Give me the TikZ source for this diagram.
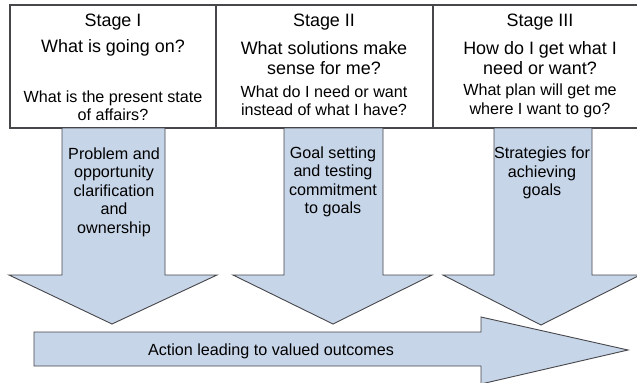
\documentclass[tikz,border=0pt]{standalone}
\usepackage{fontspec}
\setmainfont{Liberation Sans}
\definecolor{arrowfill}{RGB}{199,213,233}
\definecolor{edge}{RGB}{70,70,75}
\begin{document}
\begin{tikzpicture}[x=1bp,y=-1bp,
  frame/.style={draw=edge,line width=1.1bp},
  bigarrow/.style={draw=edge,line width=0.9bp,fill=arrowfill,line join=miter},
  head/.style={font=\fontsize{18}{20}\selectfont,align=center,inner sep=0pt},
  question/.style={font=\fontsize{16.2}{18.5}\selectfont,align=center,inner sep=0pt},
  arrowtext/.style={font=\fontsize{16.2}{18.5}\selectfont,align=center,inner sep=0pt}]
  \useasboundingbox (0,0) rectangle (637,382);
  \clip (0,0) rectangle (637,382);
  \fill[white] (0,0) rectangle (637,382);

  % stage table
  \draw[frame] (10,5) rectangle (660,128);
  \draw[frame] (216,5) -- (216,128);
  \draw[frame] (433,5) -- (433,128);

  % downward arrows
  \draw[bigarrow] (62,128) -- (165,128) -- (165,275) -- (217,275) -- (112,324)
    -- (9,275) -- (62,275) -- cycle;
  \draw[bigarrow] (284,128) -- (383,128) -- (383,275) -- (432,275) -- (333,324)
    -- (233,275) -- (284,275) -- cycle;
  \draw[bigarrow] (494,128) -- (592,128) -- (592,275) -- (640,275) -- (541,325)
    -- (443,275) -- (494,275) -- cycle;

  % horizontal arrow
  \draw[bigarrow] (34,332) -- (481,332) -- (481,317) -- (628,350) -- (481,384)
    -- (481,366) -- (34,366) -- cycle;

  % stage I
  \node[head] (s1) at (113,22) {Stage I};
  \node[head] (q1) at (113,48) {What is going on?};
  \node[question] (p1) at (113,106) {What is the present state\\of affairs?};
  % stage II
  \node[head] (s2) at (324,22) {Stage II};
  \node[head] (q2) at (324,58) {What solutions make\\sense for me?};
  \node[question] (p2) at (324,101) {What do I need or want\\instead of what I have?};
  % stage III
  \node[head] (s3) at (540,22) {Stage III};
  \node[head] (q3) at (540,58) {How do I get what I\\need or want?};
  \node[question] (p3) at (540,101) {What plan will get me\\where I want to go?};

  % arrow labels
  \node[arrowtext] (a1) at (114,192) {Problem and\\opportunity\\clarification\\and\\ownership};
  \node[arrowtext] (a2) at (333,182) {Goal setting\\and testing\\commitment\\to goals};
  \node[arrowtext] (a3) at (542,173) {Strategies for\\achieving\\goals};
  \node[arrowtext] (a4) at (271,351) {Action leading to valued outcomes};
\end{tikzpicture}
\end{document}
